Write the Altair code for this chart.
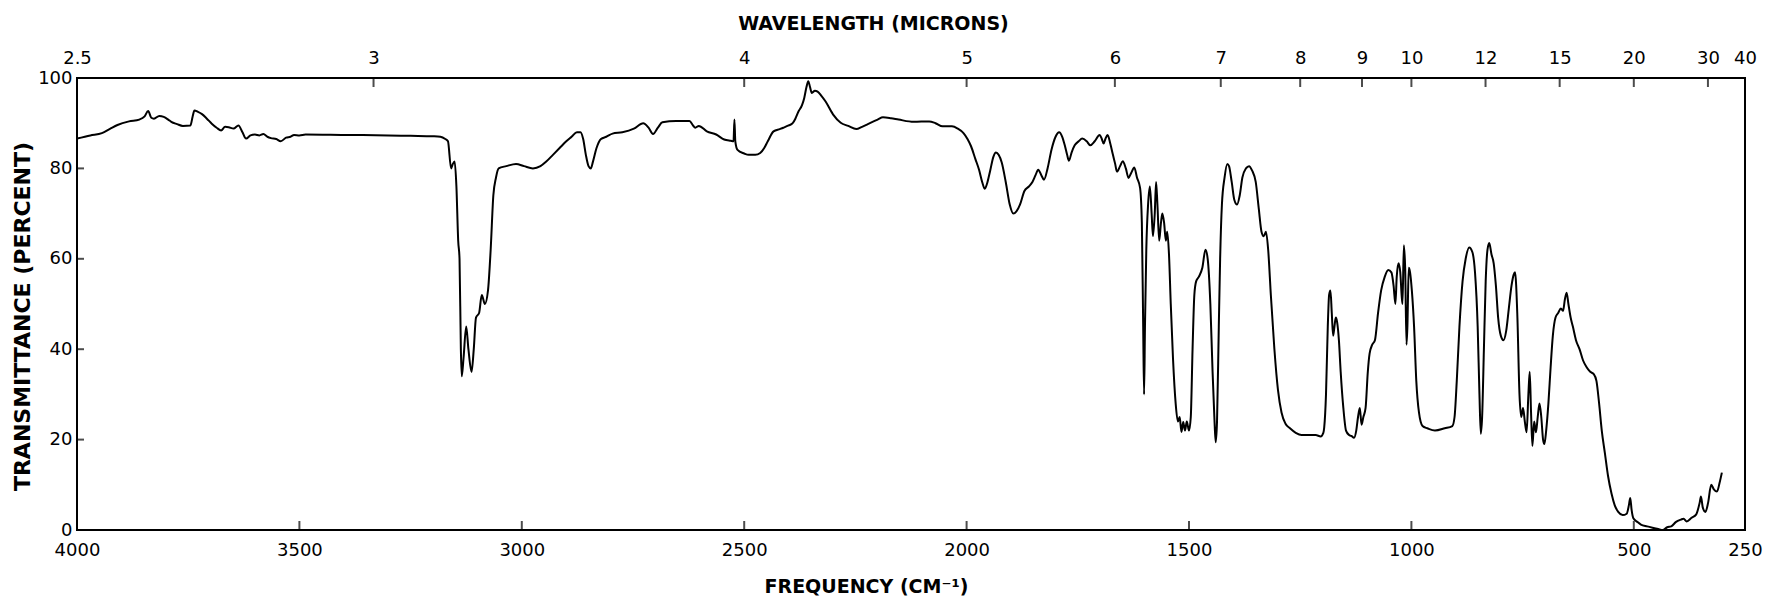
import altair as alt
import pandas as pd

# Infrared spectrum: transmittance (%) against frequency (cm-1)
FREQ = [
    4000, 3970, 3944, 3925, 3909, 3883, 3860, 3848, 3840, 3833, 3827, 3815, 3805, 3795, 3788,
    3775, 3762, 3745, 3740, 3736, 3728, 3719, 3708, 3697, 3686, 3676, 3667, 3659, 3648, 3637,
    3628, 3620, 3610, 3600, 3590, 3581, 3572, 3564, 3552, 3542, 3530, 3520, 3512, 3500, 3486,
    3400, 3300, 3250, 3200, 3183, 3172, 3166, 3159, 3155, 3151, 3147, 3143, 3140, 3137, 3135,
    3131, 3125, 3120, 3113, 3108, 3103, 3096, 3090, 3083, 3076, 3070, 3064, 3058, 3052, 3035,
    3013, 2995, 2975, 2958, 2945, 2930, 2915, 2900, 2888, 2876, 2868, 2862, 2856, 2850, 2845,
    2840, 2832, 2822, 2810, 2796, 2774, 2748, 2727, 2715, 2705, 2694, 2684, 2653, 2623, 2615,
    2610, 2602, 2584, 2563, 2545, 2530, 2524, 2522, 2520, 2515, 2500, 2490, 2475, 2464, 2455,
    2447, 2434, 2420, 2412, 2400, 2391, 2385, 2378, 2370, 2365, 2360, 2356, 2352, 2348, 2341,
    2335, 2326, 2317, 2300, 2283, 2266, 2248, 2235, 2222, 2200, 2188, 2170, 2153, 2119, 2084,
    2070, 2054, 2033, 2020, 2007, 1998, 1990, 1980, 1972, 1965, 1959, 1953, 1947, 1940, 1934,
    1928, 1921, 1912, 1903, 1895, 1888, 1880, 1870, 1860, 1852, 1845, 1839, 1832, 1826, 1818,
    1809, 1800, 1792, 1785, 1779, 1774, 1770, 1764, 1757, 1748, 1740, 1730, 1722, 1712, 1701,
    1696, 1692, 1688, 1683, 1677, 1671, 1666, 1662, 1655, 1649, 1642, 1636, 1630, 1623, 1617,
    1610, 1606, 1603, 1601, 1599, 1596, 1592, 1588, 1584, 1581, 1577, 1574, 1571, 1567, 1563,
    1560, 1556, 1552, 1549, 1545, 1541, 1536, 1530, 1525, 1521, 1517, 1513, 1509, 1505, 1500,
    1496, 1492, 1488, 1484, 1478, 1470, 1463, 1458, 1452, 1447, 1443, 1440, 1437, 1433, 1430,
    1426, 1420, 1414, 1410, 1404, 1398, 1392, 1386, 1380, 1372, 1365, 1358, 1350, 1343, 1337,
    1332, 1327, 1322, 1316, 1308, 1300, 1292, 1283, 1273, 1260, 1247, 1230, 1215, 1204, 1198,
    1196, 1192, 1188, 1185, 1182, 1179, 1176, 1173, 1170, 1167, 1163, 1159, 1153, 1147, 1140,
    1135, 1129, 1124, 1120, 1116, 1112, 1108, 1103, 1098, 1094, 1088, 1082, 1075, 1068, 1060,
    1052, 1045, 1040, 1036, 1033, 1029, 1025, 1022, 1020, 1017, 1014, 1011, 1009, 1006, 1003,
    999, 994, 989, 983, 975, 964, 947, 925, 908, 903, 898, 892, 885, 878, 870,
    863, 857, 851, 847, 844, 841, 837, 833, 829, 825, 820, 815, 810, 805, 799,
    793, 787, 781, 775, 770, 767, 762, 757, 753, 749, 745, 741, 737, 734, 731,
    728, 724, 720, 716, 712, 708, 704, 701, 697, 692, 687, 682, 676, 670, 664,
    659, 655, 651, 647, 642, 637, 630, 622, 614, 606, 598, 590, 584, 578, 572,
    565, 558, 550, 543, 535, 525, 516, 511, 508, 505, 501, 492, 484, 470, 458,
    445, 435, 425, 416, 405, 394, 388, 381, 370, 360, 352, 349, 345, 339, 333,
    326, 320, 313, 307, 302,
]
TRANS = [
    86.6, 87.3, 87.8, 88.8, 89.6, 90.4, 90.8, 91.5, 92.7, 91.2, 91.0, 91.6, 91.4, 90.8, 90.3,
    89.8, 89.4, 89.5, 91.5, 92.8, 92.5, 92.0, 91.0, 89.9, 89.0, 88.4, 89.2, 89.1, 88.8, 89.5,
    88.0, 86.6, 87.3, 87.5, 87.3, 87.6, 87.0, 86.7, 86.5, 86.0, 86.8, 87.0, 87.4, 87.3, 87.5,
    87.4, 87.3, 87.2, 87.1, 87.0, 86.5, 86.0, 80.0, 81.0, 81.5, 76.0, 64.0, 60.0, 40.0, 34.0,
    38.0, 45.0, 40.0, 35.0, 40.0, 47.0, 48.0, 52.0, 50.0, 53.0, 62.0, 74.0, 78.0, 80.0, 80.5,
    81.0, 80.5, 80.0, 80.5, 81.5, 83.0, 84.5, 86.0, 87.0, 88.0, 88.0, 86.5, 83.0, 80.5, 80.0,
    81.5, 84.5, 86.5, 87.0, 87.7, 88.0, 88.8, 90.0, 89.0, 87.6, 89.0, 90.2, 90.5, 90.5, 89.5,
    89.0, 89.4, 88.2, 87.5, 86.4, 86.1, 86.0, 90.8, 86.0, 84.1, 83.3, 83.0, 83.0, 83.4, 84.5,
    86.0, 88.2, 88.7, 89.0, 89.5, 90.0, 91.0, 92.6, 94.0, 95.6, 98.0, 99.3, 98.0, 96.7, 97.2,
    97.0, 96.0, 94.8, 91.9, 90.1, 89.4, 88.7, 89.2, 89.8, 90.8, 91.3, 91.1, 90.8, 90.3, 90.4,
    90.0, 89.3, 89.3, 88.8, 87.8, 86.5, 84.9, 82.0, 79.7, 77.0, 75.5, 77.0, 79.5, 82.5, 83.5,
    83.0, 81.3, 77.0, 72.0, 70.0, 70.5, 72.0, 75.0, 76.0, 77.0, 78.5, 79.7, 78.5, 77.5, 80.0,
    84.2, 87.0, 88.0, 87.0, 85.0, 83.0, 81.7, 83.5, 85.1, 86.0, 86.6, 86.0, 85.1, 86.0, 87.4,
    86.5, 85.5, 86.5, 87.4, 85.5, 83.0, 81.0, 79.3, 80.5, 81.6, 80.0, 77.9, 79.0, 80.2, 78.0,
    75.7, 68.0, 45.0, 30.0, 45.0, 62.0, 72.0, 76.0, 70.0, 65.0, 70.0, 77.0, 72.0, 64.0, 68.0,
    70.0, 68.0, 64.0, 66.0, 61.0, 50.0, 38.0, 28.0, 24.0, 25.0, 21.7, 23.9, 22.0, 24.0, 22.0,
    25.0, 40.0, 52.0, 55.0, 56.0, 58.0, 62.0, 60.0, 50.0, 35.0, 25.0, 19.4, 24.0, 45.0, 60.0,
    72.0, 78.0, 81.0, 80.5, 77.0, 73.0, 72.0, 74.0, 78.0, 80.0, 80.5, 79.5, 77.0, 71.0, 66.0,
    65.0, 66.0, 62.0, 52.0, 40.0, 31.0, 26.0, 23.5, 22.5, 21.5, 21.0, 21.0, 21.0, 20.7, 21.5,
    22.7, 30.0, 45.0, 52.0, 53.0, 48.0, 43.0, 45.0, 47.0, 46.0, 42.0, 35.0, 27.0, 22.0, 21.0,
    20.8, 20.4, 22.0, 25.0, 27.0, 23.3, 25.0, 27.0, 35.0, 39.0, 41.0, 42.0, 48.0, 53.0, 56.0,
    57.5, 57.0, 54.0, 50.0, 56.0, 59.0, 57.0, 52.0, 50.0, 63.0, 58.0, 41.0, 45.0, 58.0, 57.0,
    53.0, 45.0, 33.0, 26.0, 23.0, 22.5, 22.0, 22.5, 23.0, 25.0, 33.0, 45.0, 55.0, 60.0, 62.5,
    61.5, 57.0, 45.0, 30.0, 21.3, 25.0, 40.0, 55.0, 62.0, 63.5, 61.0, 59.0, 54.0, 47.0, 43.0,
    42.0, 44.0, 49.0, 54.0, 56.5, 57.0, 48.0, 30.0, 25.0, 27.0, 24.0, 21.6, 30.0, 35.0, 26.0,
    18.6, 24.0, 21.6, 25.0, 28.0, 25.0, 20.0, 19.0, 22.0, 28.0, 36.0, 43.0, 47.0, 48.0, 49.0,
    48.5, 51.0, 52.5, 50.0, 47.0, 45.0, 42.0, 40.0, 37.5, 36.0, 35.0, 34.5, 33.0, 28.0, 22.0,
    17.0, 12.0, 8.0, 5.5, 4.0, 3.3, 3.6, 5.5, 7.1, 4.5, 2.6, 1.8, 1.2, 0.8, 0.5,
    0.2, 0.0, 0.6, 0.8, 1.8, 2.3, 2.5, 1.9, 2.7, 3.4, 6.0, 7.4, 5.0, 4.0, 6.0,
    10.0, 9.0, 8.5, 10.5, 12.7,
]

FREQ_TICKS = [4000, 3500, 3000, 2500, 2000, 1500, 1000, 500, 250]
MICRON_TICKS = [2.5, 3, 4, 5, 6, 7, 8, 9, 10, 12, 15, 20, 30, 40]
TRANS_TICKS = [0, 20, 40, 60, 80, 100]

W, H = 1668, 452
FONT = "DejaVu Sans"

spectrum = pd.DataFrame({"freq": FREQ, "trans": TRANS})
micron = pd.DataFrame({"micron": MICRON_TICKS})
micron["freq"] = 10000.0 / micron["micron"]
inner_freq = pd.DataFrame({"freq": FREQ_TICKS[1:-1]})
inner_trans = pd.DataFrame({"trans": TRANS_TICKS[1:-1]})

x_scale = alt.Scale(domain=[250, 4000], reverse=True, nice=False, zero=False)
y_scale = alt.Scale(domain=[0, 100], nice=False, zero=False)

axis_common = dict(
    ticks=False, tickSize=0, domain=False, grid=False,
    labelFont=FONT, labelFontSize=18, labelColor="black",
    titleFont=FONT, titleFontSize=19, titleFontWeight="bold", titleColor="black",
)

curve = alt.Chart(spectrum).mark_line(
    color="black", strokeWidth=2, interpolate="monotone"
).encode(
    x=alt.X("freq:Q", scale=x_scale, axis=alt.Axis(
        orient="bottom", values=FREQ_TICKS, format="d", labelFlush=False,
        labelPadding=11, title="FREQUENCY (CM⁻¹)",
        titleX=789, titleY=56, titleAlign="center", titleBaseline="middle",
        **axis_common)),
    y=alt.Y("trans:Q", scale=y_scale, axis=alt.Axis(
        orient="left", values=TRANS_TICKS, format="d", labelPadding=5,
        title="TRANSMITTANCE (PERCENT)", titleAngle=270,
        titleX=-55, titleY=238, titleAlign="center", titleBaseline="middle",
        **{**axis_common, "titleFontSize": 22})),
)

# wavelength scale along the top edge, with ticks pointing into the plot
top_ticks = alt.Chart(micron).mark_tick(
    orient="vertical", color="black", thickness=2, size=9, yOffset=4.5
).encode(
    x=alt.X("freq:Q", scale=x_scale, axis=alt.Axis(
        orient="top", values=list(micron["freq"]), labelFlush=False,
        labelExpr="format(10000 / datum.value, '.3~g')", labelPadding=11,
        title="WAVELENGTH (MICRONS)",
        titleX=796, titleY=-55, titleAlign="center", titleBaseline="middle",
        **axis_common)),
    y=alt.Y(datum=100, scale=y_scale, axis=None),
)

bottom_ticks = alt.Chart(inner_freq).mark_tick(
    orient="vertical", color="black", thickness=2, size=9, yOffset=-4.5
).encode(
    x=alt.X("freq:Q", scale=x_scale, axis=None),
    y=alt.Y(datum=0, scale=y_scale, axis=None),
)

left_ticks = alt.Chart(inner_trans).mark_tick(
    orient="horizontal", color="black", thickness=2, size=7, xOffset=3.5
).encode(
    x=alt.X(datum=4000, scale=x_scale, axis=None),
    y=alt.Y("trans:Q", scale=y_scale, axis=None),
)

chart = alt.layer(curve, top_ticks, bottom_ticks, left_ticks).resolve_axis(
    x="independent", y="independent"
).properties(
    width=W, height=H,
    padding={"left": 77, "top": 78, "right": 1769 - 77 - W, "bottom": 597 - 78 - H},
    autosize=alt.AutoSizeParams(type="none"),
    background="white",
).configure_view(stroke="black", strokeWidth=2)

chart.save("out.html", embed_options={"renderer": "svg", "actions": False})
